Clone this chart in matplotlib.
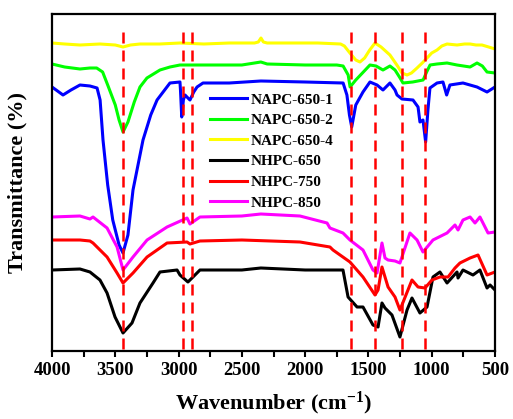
import matplotlib
matplotlib.use('Agg')
import matplotlib.pyplot as plt
from matplotlib.ticker import MultipleLocator

# wavenumbers (cm-1) and stacked transmittance (arb. units, offset)
w_napc1 = [4000, 3913, 3850, 3779, 3700, 3644, 3620, 3597, 3560, 3520, 3470, 3439, 3400, 3360, 3281, 3220,
           3170, 3068, 2989, 2985, 2975, 2962, 2949, 2926, 2910, 2880, 2854, 2807, 2600, 2350, 2000, 1700,
           1670, 1650, 1632, 1600, 1543, 1488, 1432, 1385, 1330, 1290, 1274, 1235, 1148, 1108, 1093, 1069,
           1048, 1030, 1014, 958, 911, 882, 856, 753, 642, 563, 500]
t_napc1 = [264, 256, 261, 266, 265, 263, 251, 211, 166, 131, 106, 98, 116, 161, 211, 236,
           251, 268, 269, 261, 234, 251, 256, 253, 251, 259, 264, 268, 268, 270, 269, 268,
           256, 236, 224, 246, 259, 269, 266, 261, 268, 261, 256, 252, 251, 244, 229, 231,
           209, 241, 263, 268, 269, 256, 266, 268, 264, 259, 264]

w_napc2 = [4000, 3900, 3779, 3700, 3647, 3600, 3560, 3500, 3470, 3439, 3400, 3350, 3305, 3250, 3147, 3068,
           2989, 2900, 2700, 2500, 2350, 2300, 2000, 1750, 1700, 1660, 1645, 1600, 1540, 1488, 1440, 1385,
           1330, 1290, 1250, 1227, 1150, 1068, 1040, 1013, 958, 879, 800, 697, 642, 600, 563, 500]
t_napc2 = [287, 284, 282, 283, 283, 279, 266, 246, 231, 219, 229, 249, 264, 273, 281, 284,
           286, 286, 286, 286, 289, 287, 286, 286, 285, 276, 264, 271, 279, 286, 285, 281,
           285, 281, 273, 268, 269, 271, 279, 286, 287, 288, 286, 284, 288, 285, 279, 278]

w_napc4 = [4000, 3900, 3779, 3621, 3500, 3439, 3380, 3305, 3150, 2989, 2800, 2600, 2400, 2370, 2349, 2330,
           2300, 2100, 1900, 1720, 1690, 1640, 1600, 1567, 1530, 1490, 1448, 1400, 1330, 1270, 1235, 1195,
           1160, 1116, 1075, 1037, 1000, 958, 920, 879, 800, 740, 697, 650, 603, 550, 500]
t_napc4 = [308, 307, 306, 307, 306, 304, 306, 307, 307, 308, 307, 308, 308, 309, 313, 309,
           308, 308, 308, 307, 305, 297, 291, 289, 293, 301, 308, 304, 296, 285, 278, 276,
           278, 283, 288, 293, 298, 301, 305, 307, 306, 307, 307, 306, 306, 304, 302]

w_nhpc650 = [4000, 3779, 3700, 3621, 3565, 3502, 3439, 3368, 3305, 3202, 3147, 3012, 2989, 2926, 2886, 2831,
             2500, 2350, 2000, 1701, 1661, 1590, 1543, 1464, 1424, 1393, 1369, 1314, 1251, 1195, 1156, 1093,
             1037, 990, 935, 879, 800, 792, 753, 674, 619, 563, 539, 500]
t_nhpc650 = [81, 82, 79, 71, 58, 34, 18, 28, 48, 68, 79, 81, 76, 69, 74, 81,
             81, 83, 81, 81, 54, 44, 44, 26, 24, 48, 43, 36, 14, 41, 53, 38,
             44, 74, 79, 68, 79, 73, 81, 76, 81, 63, 66, 61]

w_nhpc750 = [4000, 3779, 3700, 3676, 3565, 3486, 3439, 3360, 3249, 3091, 2933, 2910, 2831, 2500, 2041, 1804,
             1780, 1646, 1543, 1448, 1424, 1393, 1345, 1290, 1251, 1156, 1108, 1053, 998, 935, 871, 816,
             777, 697, 634, 563, 500]
t_nhpc750 = [111, 111, 110, 108, 94, 78, 68, 78, 94, 108, 109, 107, 110, 111, 109, 104,
             101, 89, 74, 56, 61, 84, 64, 54, 41, 71, 64, 63, 71, 74, 74, 83,
             88, 93, 96, 76, 79]

w_nhpc850 = [4000, 3779, 3700, 3676, 3565, 3486, 3439, 3360, 3249, 3091, 2933, 2910, 2831, 2500, 2350, 2041,
             1827, 1804, 1701, 1646, 1543, 1464, 1432, 1393, 1369, 1345, 1290, 1251, 1172, 1116, 1069, 990,
             879, 816, 792, 753, 697, 658, 619, 555, 500]
t_nhpc850 = [134, 135, 132, 134, 123, 104, 81, 94, 111, 124, 133, 127, 134, 135, 137, 135,
             128, 123, 118, 111, 101, 81, 78, 108, 93, 91, 90, 88, 118, 111, 99, 111,
             118, 126, 121, 131, 134, 128, 134, 118, 119]

peaks = [3440, 2965, 2895, 1640, 1450, 1232, 1053]

series = [
    ('NAPC-650-1', w_napc1, t_napc1, '#0000FF'),
    ('NAPC-650-2', w_napc2, t_napc2, '#00FF00'),
    ('NAPC-650-4', w_napc4, t_napc4, '#FFFF00'),
    ('NHPC-650', w_nhpc650, t_nhpc650, '#000000'),
    ('NHPC-750', w_nhpc750, t_nhpc750, '#FF0000'),
    ('NHPC-850', w_nhpc850, t_nhpc850, '#FF00FF'),
]

plt.rcParams['font.family'] = ['Liberation Serif', 'DejaVu Serif']
plt.rcParams['font.weight'] = 'bold'
plt.rcParams['mathtext.fontset'] = 'custom'
plt.rcParams['mathtext.rm'] = 'Liberation Serif:bold'
plt.rcParams['mathtext.bf'] = 'Liberation Serif:bold'
plt.rcParams['mathtext.default'] = 'bf'

fig = plt.figure(figsize=(5.13, 4.19), dpi=100)
ax = fig.add_axes([52 / 513, 1 - 351 / 419, 443 / 513, 337 / 419])

for label, w, t, color in series:
    ax.plot(w, t, color=color, lw=2.2, label=label, zorder=2, solid_joinstyle='round')

for p in peaks:
    ax.plot([p, p], [2, 319], color='#FF0000', lw=1.8, dashes=(4.4, 2.8), zorder=3)

ax.set_xlim(4000, 500)
ax.set_ylim(0, 337)
ax.xaxis.set_major_locator(MultipleLocator(500))
ax.xaxis.set_minor_locator(MultipleLocator(250))
ax.set_yticks([])
ax.tick_params(axis='x', which='both', direction='out', length=4, width=1.5, labelsize=13.5, pad=4)
for lab in ax.get_xticklabels():
    lab.set_fontweight('bold')
for s in ax.spines.values():
    s.set_linewidth(1.6)

ax.set_xlabel('Wavenumber (cm$^{-1}$)', fontsize=16, fontweight='bold', labelpad=8)
ax.set_ylabel('Transmittance (%)', fontsize=16, fontweight='bold', labelpad=18)

ax.legend(loc='upper left', bbox_to_anchor=((210 - 52) / 443, (351 - 93) / 337), frameon=False,
          prop={'size': 11, 'weight': 'bold'}, handlelength=2.4, handletextpad=0.25,
          labelspacing=0.45, borderpad=0, borderaxespad=0)

fig.savefig('out.png', dpi=100)
